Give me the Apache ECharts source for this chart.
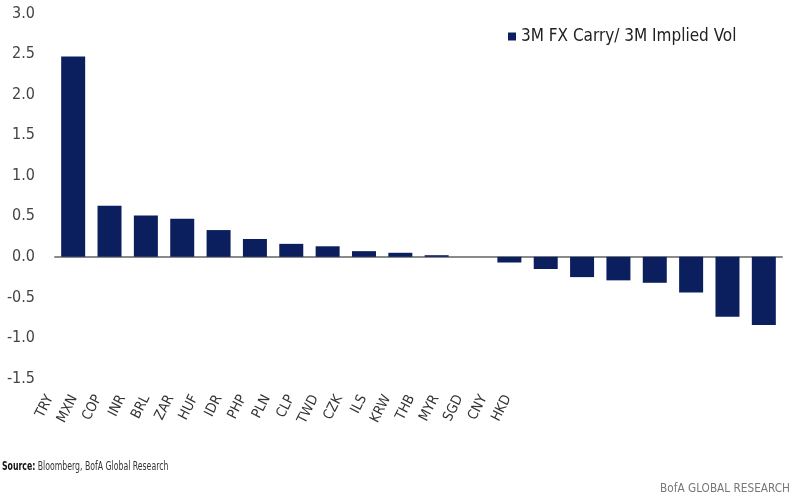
<!DOCTYPE html>
<html>
<head>
<meta charset="utf-8">
<script src="https://cdn.jsdelivr.net/npm/echarts@6/dist/echarts.min.js"></script>
<style>
  html, body { margin: 0; padding: 0; background: #fff; }
  #chart { width: 790px; height: 500px; }
</style>
</head>
<body>
<div id="chart"></div>
<script>
// currencies, ordered as in the chart
const categories = ['TRY', 'MXN', 'COP', 'INR', 'BRL', 'ZAR', 'HUF', 'IDR', 'PHP', 'PLN',
  'CLP', 'TWD', 'CZK', 'ILS', 'KRW', 'THB', 'MYR', 'SGD', 'CNY', 'HKD'];
// 3M FX carry / 3M implied vol
const carryToVol = [2.47, 0.63, 0.51, 0.47, 0.33, 0.22, 0.16, 0.13, 0.07, 0.05,
  0.02, 0.0, -0.07, -0.15, -0.25, -0.29, -0.32, -0.44, -0.74, -0.84];
const seriesName = '3M FX Carry/ 3M Implied Vol';

const font = '"Liberation Sans Narrow", "DejaVu Sans Condensed", "Open Sans", sans-serif';
const navy = '#0b1f5f';

const chart = echarts.init(document.getElementById('chart'));
chart.setOption({
  animation: false,
  textStyle: { fontFamily: font },
  legend: {
    data: [seriesName],
    left: 503,
    top: 23,
    icon: 'rect',
    itemWidth: 8,
    itemHeight: 8,
    itemGap: 6,
    textStyle: { color: '#222', fontSize: 17, fontFamily: font }
  },
  grid: [
    { left: 55, right: 8, top: 13.5, height: 365 },
    // label strip: the reference packs the currency labels tighter than the bars
    { left: 38, width: 482, top: 382, height: 10 }
  ],
  xAxis: [
    {
      gridIndex: 0,
      type: 'category',
      data: categories,
      axisLine: { onZero: true, lineStyle: { color: '#8a8a8a', width: 2 } },
      axisTick: { show: false },
      axisLabel: { show: false }
    },
    {
      gridIndex: 1,
      type: 'category',
      data: categories,
      axisLine: { show: false },
      axisTick: { show: false },
      axisLabel: {
        rotate: 63,
        margin: 4,
        interval: 0,
        color: '#333',
        fontSize: 14,
        fontFamily: font
      }
    }
  ],
  yAxis: [
    {
      gridIndex: 0,
      type: 'value',
      min: -1.5,
      max: 3,
      interval: 0.5,
      splitLine: { show: false },
      axisLine: { show: false },
      axisTick: { show: false },
      axisLabel: {
        margin: 20,
        color: '#444',
        fontSize: 16,
        fontFamily: font,
        formatter: (v) => v.toFixed(1)
      }
    },
    { gridIndex: 1, type: 'value', show: false }
  ],
  graphic: [
    {
      type: 'text',
      x: 2,
      y: 461,
      scaleX: 0.72,
      style: {
        rich: {
          b: { fontWeight: 'bold', fontSize: 12, fill: '#111', fontFamily: font },
          n: { fontSize: 12, fill: '#333', fontFamily: font }
        },
        text: '{b|Source:} {n|Bloomberg, BofA Global Research}'
      }
    },
    {
      type: 'text',
      x: 790,
      y: 482,
      scaleX: 0.9,
      style: { text: 'BofA GLOBAL RESEARCH', align: 'right', fontSize: 13, fill: '#777', fontFamily: font }
    }
  ],
  series: [
    {
      name: seriesName,
      type: 'bar',
      xAxisIndex: 0,
      yAxisIndex: 0,
      data: carryToVol,
      barWidth: 24,
      itemStyle: { color: navy }
    }
  ]
});
</script>
</body>
</html>
